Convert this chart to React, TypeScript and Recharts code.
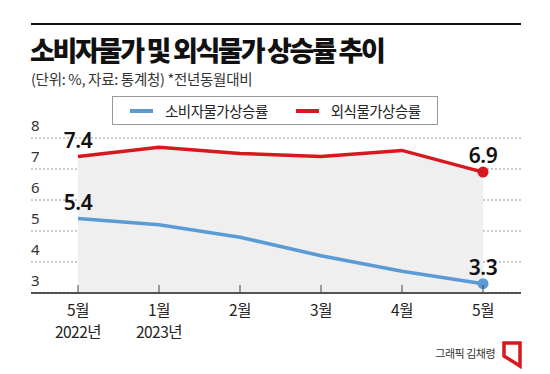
import React from 'react';
import { ComposedChart, Area, Line, XAxis, YAxis, CartesianGrid, LabelList } from 'recharts';

const months = ['5월', '1월', '2월', '3월', '4월', '5월'];
const years = ['2022년', '2023년', '', '', '', ''];
const cpiRate = [5.4, 5.2, 4.8, 4.2, 3.7, 3.3];
const diningRate = [7.4, 7.7, 7.5, 7.4, 7.6, 6.9];
const yTicks = [3, 4, 5, 6, 7, 8];
const seriesNames = ['소비자물가상승률', '외식물가상승률'];

const RED = '#d7191f';
const BLUE = '#5b9bd5';
const FONT = '"Noto Sans CJK KR", "Noto Sans", sans-serif';
const NUMFONT = '"Noto Sans", "Noto Sans CJK KR", sans-serif';

const data = months.map((m, i) => ({ idx: i, month: m, year: years[i], cpi: cpiRate[i], dining: diningRate[i] }));
const LAST = data.length - 1;

const XTick = (props: any) => {
  const { x, y, payload } = props;
  const i = payload.value as number;
  return (
    <g>
      <line x1={x} x2={x} y1={y - 8} y2={y} stroke="#444" strokeWidth={1} />
      <text x={x} y={y + 23} textAnchor="middle" fontSize={15.5} fill="#222" fontFamily={FONT} letterSpacing={-0.5}>
        {months[i]}
      </text>
      {years[i] ? (
        <text x={x} y={y + 45} textAnchor="middle" fontSize={15.5} fill="#222" fontFamily={FONT} letterSpacing={-0.5}>
          {years[i]}
        </text>
      ) : null}
    </g>
  );
};

const YTick = (props: any) => {
  const { x, y, payload } = props;
  return (
    <text x={x} y={y - 7} textAnchor="start" fontSize={15} fill="#333" fontFamily={NUMFONT}>
      {payload.value}
    </text>
  );
};

const EndLabel = (props: any) => {
  const { x, y, value, index } = props;
  if (index !== 0 && index !== LAST) return null;
  return (
    <text x={x} y={y - 9} textAnchor="middle" fontSize={21} fontWeight={600} fill="#111" fontFamily={NUMFONT} letterSpacing={-0.5}>
      {Number(value).toFixed(1)}
    </text>
  );
};

const endDot = (color: string) => (p: any) => {
  if (p.index !== LAST) return <g key={`d${p.index}`} />;
  return <circle key={`d${p.index}`} cx={p.cx} cy={p.cy} r={5.5} fill={color} stroke="none" />;
};

const LegendBox = () => (
  <div
    style={{
      position: 'absolute',
      left: 112,
      top: 96,
      boxSizing: 'border-box',
      width: 326,
      height: 29,
      border: '1px solid #999',
      background: '#fff',
      display: 'flex',
      alignItems: 'center',
      fontFamily: FONT,
      fontSize: 14.5,
      color: '#222',
      letterSpacing: -0.5,
    }}
  >
    <span style={{ display: 'inline-block', width: 23, height: 4, background: BLUE, marginLeft: 17, marginRight: 12 }} />
    <span>{seriesNames[0]}</span>
    <span style={{ display: 'inline-block', width: 23, height: 4, background: RED, marginLeft: 28, marginRight: 12 }} />
    <span>{seriesNames[1]}</span>
  </div>
);

export default function App() {
  return (
    <div style={{ position: 'absolute', left: 0, top: 0, width: 550, height: 374, background: '#fff' }}>
      <svg width={550} height={374} style={{ position: 'absolute', left: 0, top: 0 }}>
        <line x1={31} x2={521} y1={24} y2={24} stroke="#111" strokeWidth={2} />
        <text x={30} y={61} fontSize={27} fontWeight={800} fill="#111" fontFamily={FONT} letterSpacing={-2.3}>
          소비자물가 및 외식물가 상승률 추이
        </text>
        <text x={31} y={85} fontSize={14.5} fill="#333" fontFamily={FONT} letterSpacing={-0.3}>
          (단위: %, 자료: 통계청)  *전년동월대비
        </text>
        <text x={495} y={358} textAnchor="end" fontSize={11} fill="#333" fontFamily={FONT} letterSpacing={-0.5}>
          그래픽 김채령
        </text>
        <polygon points="504,343 520,343 520,366 504,356" fill="none" stroke={RED} strokeWidth={3.5} strokeLinejoin="miter" />
      </svg>
      <div style={{ position: 'absolute', left: 0, top: 0 }}>
        <ComposedChart width={550} height={374} data={data} margin={{ top: 138, right: 29, bottom: 51, left: -9 }}>
          <CartesianGrid horizontal vertical={false} stroke="#999" strokeDasharray="2 2" />
          <XAxis
            dataKey="idx"
            type="category"
            height={30}
            axisLine={{ stroke: '#222', strokeWidth: 1.5 }}
            tickLine={false}
            tickSize={0}
            tickMargin={0}
            tick={<XTick />}
            padding={{ left: 47, right: 38 }}
            interval={0}
          />
          <YAxis
            domain={[3, 8]}
            ticks={yTicks}
            width={40}
            axisLine={false}
            tickLine={false}
            tickSize={0}
            tickMargin={0}
            tick={<YTick />}
            interval={0}
          />
          <Area
            type="linear"
            dataKey="dining"
            name={seriesNames[1]}
            stroke={RED}
            strokeWidth={3.5}
            fill="#efefef"
            fillOpacity={1}
            baseValue={3}
            dot={endDot(RED)}
            activeDot={false}
            isAnimationActive={false}
          >
            <LabelList dataKey="dining" content={<EndLabel />} />
          </Area>
          <Line
            type="linear"
            dataKey="cpi"
            name={seriesNames[0]}
            stroke={BLUE}
            strokeWidth={3.5}
            dot={endDot(BLUE)}
            activeDot={false}
            isAnimationActive={false}
          >
            <LabelList dataKey="cpi" content={<EndLabel />} />
          </Line>
        </ComposedChart>
      </div>
      <LegendBox />
    </div>
  );
}
